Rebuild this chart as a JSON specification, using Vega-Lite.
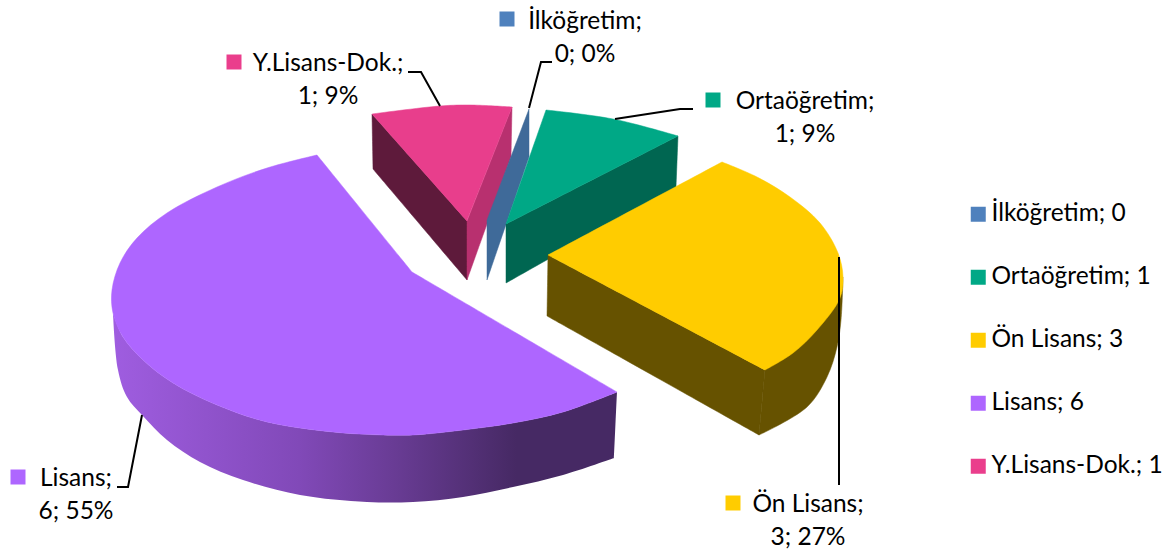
{"$schema":"https://vega.github.io/schema/vega-lite/v6.json","width":1165,"height":554,"autosize":{"type":"fit","contains":"padding"},"padding":0,"background":"white","config":{"view":{"stroke":null}},
"datasets":{
"slices":[
{"category":"İlköğretim","value":0,"percent":"0%","legendLabel":"İlköğretim; 0","label":"İlköğretim;\n0; 0%","tx":585,"ty":22,"kx":507,"ky":19},
{"category":"Ortaöğretim","value":1,"percent":"9%","legendLabel":"Ortaöğretim; 1","label":"Ortaöğretim;\n1; 9%","tx":805,"ty":102,"kx":713,"ky":100},
{"category":"Ön Lisans","value":3,"percent":"27%","legendLabel":"Ön Lisans; 3","label":"Ön Lisans;\n3; 27%","tx":808,"ty":505,"kx":733,"ky":503},
{"category":"Lisans","value":6,"percent":"55%","legendLabel":"Lisans; 6","label":"Lisans;\n6; 55%","tx":76,"ty":479,"kx":18,"ky":477},
{"category":"Y.Lisans-Dok.","value":1,"percent":"9%","legendLabel":"Y.Lisans-Dok.; 1","label":"Y.Lisans-Dok.;\n1; 9%","tx":328,"ty":64,"kx":234,"ky":62}
],
"faces":[
{"face":"lisansWall","i":0,"x":113,"y":313},{"face":"lisansWall","i":1,"x":113,"y":313},{"face":"lisansWall","i":2,"x":123,"y":337},{"face":"lisansWall","i":3,"x":143,"y":360},{"face":"lisansWall","i":4,"x":173,"y":383},{"face":"lisansWall","i":5,"x":217,"y":405},{"face":"lisansWall","i":6,"x":267,"y":422},{"face":"lisansWall","i":7,"x":333,"y":432},{"face":"lisansWall","i":8,"x":383,"y":435},{"face":"lisansWall","i":9,"x":413,"y":435},{"face":"lisansWall","i":10,"x":463,"y":430},{"face":"lisansWall","i":11,"x":513,"y":423},{"face":"lisansWall","i":12,"x":563,"y":412},{"face":"lisansWall","i":13,"x":617,"y":392},{"face":"lisansWall","i":14,"x":617,"y":392},{"face":"lisansWall","i":15,"x":614,"y":458},{"face":"lisansWall","i":16,"x":614,"y":458},{"face":"lisansWall","i":17,"x":563,"y":475},{"face":"lisansWall","i":18,"x":513,"y":487},{"face":"lisansWall","i":19,"x":463,"y":497},{"face":"lisansWall","i":20,"x":413,"y":502},{"face":"lisansWall","i":21,"x":367,"y":502},{"face":"lisansWall","i":22,"x":300,"y":495},{"face":"lisansWall","i":23,"x":243,"y":480},{"face":"lisansWall","i":24,"x":200,"y":462},{"face":"lisansWall","i":25,"x":167,"y":440},{"face":"lisansWall","i":26,"x":142,"y":415},{"face":"lisansWall","i":27,"x":127,"y":397},{"face":"lisansWall","i":28,"x":118,"y":370},{"face":"lisansWall","i":29,"x":113,"y":313},{"face":"lisansWall","i":30,"x":113,"y":313},
{"face":"lisansTop","i":0,"x":412,"y":272},{"face":"lisansTop","i":1,"x":412,"y":272},{"face":"lisansTop","i":2,"x":317,"y":155},{"face":"lisansTop","i":3,"x":317,"y":155},{"face":"lisansTop","i":4,"x":267,"y":168},{"face":"lisansTop","i":5,"x":217,"y":187},{"face":"lisansTop","i":6,"x":167,"y":213},{"face":"lisansTop","i":7,"x":137,"y":238},{"face":"lisansTop","i":8,"x":120,"y":263},{"face":"lisansTop","i":9,"x":112,"y":290},{"face":"lisansTop","i":10,"x":113,"y":313},{"face":"lisansTop","i":11,"x":123,"y":337},{"face":"lisansTop","i":12,"x":143,"y":360},{"face":"lisansTop","i":13,"x":173,"y":383},{"face":"lisansTop","i":14,"x":217,"y":405},{"face":"lisansTop","i":15,"x":267,"y":422},{"face":"lisansTop","i":16,"x":333,"y":432},{"face":"lisansTop","i":17,"x":383,"y":435},{"face":"lisansTop","i":18,"x":413,"y":435},{"face":"lisansTop","i":19,"x":463,"y":430},{"face":"lisansTop","i":20,"x":513,"y":423},{"face":"lisansTop","i":21,"x":563,"y":412},{"face":"lisansTop","i":22,"x":617,"y":392},{"face":"lisansTop","i":23,"x":617,"y":392},{"face":"lisansTop","i":24,"x":412,"y":272},{"face":"lisansTop","i":25,"x":412,"y":272},
{"face":"yLeft","i":0,"x":372,"y":114},{"face":"yLeft","i":1,"x":372,"y":114},{"face":"yLeft","i":2,"x":467,"y":221},{"face":"yLeft","i":3,"x":467,"y":221},{"face":"yLeft","i":4,"x":467,"y":280},{"face":"yLeft","i":5,"x":467,"y":280},{"face":"yLeft","i":6,"x":373,"y":169},{"face":"yLeft","i":7,"x":373,"y":169},{"face":"yLeft","i":8,"x":372,"y":114},{"face":"yLeft","i":9,"x":372,"y":114},
{"face":"yRight","i":0,"x":467,"y":221},{"face":"yRight","i":1,"x":467,"y":221},{"face":"yRight","i":2,"x":512,"y":107},{"face":"yRight","i":3,"x":512,"y":107},{"face":"yRight","i":4,"x":511,"y":157},{"face":"yRight","i":5,"x":511,"y":157},{"face":"yRight","i":6,"x":467,"y":280},{"face":"yRight","i":7,"x":467,"y":280},{"face":"yRight","i":8,"x":467,"y":221},{"face":"yRight","i":9,"x":467,"y":221},
{"face":"yTop","i":0,"x":467,"y":221},{"face":"yTop","i":1,"x":467,"y":221},{"face":"yTop","i":2,"x":372,"y":114},{"face":"yTop","i":3,"x":372,"y":114},{"face":"yTop","i":4,"x":440,"y":106},{"face":"yTop","i":5,"x":470,"y":105},{"face":"yTop","i":6,"x":512,"y":107},{"face":"yTop","i":7,"x":512,"y":107},{"face":"yTop","i":8,"x":467,"y":221},{"face":"yTop","i":9,"x":467,"y":221},
{"face":"ilk","i":0,"x":529,"y":109},{"face":"ilk","i":1,"x":529,"y":109},{"face":"ilk","i":2,"x":529,"y":157},{"face":"ilk","i":3,"x":529,"y":157},{"face":"ilk","i":4,"x":487,"y":280},{"face":"ilk","i":5,"x":487,"y":280},{"face":"ilk","i":6,"x":487,"y":220},{"face":"ilk","i":7,"x":487,"y":220},{"face":"ilk","i":8,"x":529,"y":109},{"face":"ilk","i":9,"x":529,"y":109},
{"face":"ortaWall","i":0,"x":506,"y":224},{"face":"ortaWall","i":1,"x":506,"y":224},{"face":"ortaWall","i":2,"x":678,"y":136},{"face":"ortaWall","i":3,"x":678,"y":136},{"face":"ortaWall","i":4,"x":676,"y":187},{"face":"ortaWall","i":5,"x":676,"y":187},{"face":"ortaWall","i":6,"x":506,"y":283},{"face":"ortaWall","i":7,"x":506,"y":283},{"face":"ortaWall","i":8,"x":506,"y":224},{"face":"ortaWall","i":9,"x":506,"y":224},
{"face":"ortaTop","i":0,"x":506,"y":224},{"face":"ortaTop","i":1,"x":506,"y":224},{"face":"ortaTop","i":2,"x":546,"y":110},{"face":"ortaTop","i":3,"x":546,"y":110},{"face":"ortaTop","i":4,"x":613,"y":119},{"face":"ortaTop","i":5,"x":678,"y":136},{"face":"ortaTop","i":6,"x":678,"y":136},{"face":"ortaTop","i":7,"x":506,"y":224},{"face":"ortaTop","i":8,"x":506,"y":224},
{"face":"onFront","i":0,"x":548,"y":255},{"face":"onFront","i":1,"x":548,"y":255},{"face":"onFront","i":2,"x":765,"y":370},{"face":"onFront","i":3,"x":765,"y":370},{"face":"onFront","i":4,"x":759,"y":435},{"face":"onFront","i":5,"x":759,"y":435},{"face":"onFront","i":6,"x":547,"y":316},{"face":"onFront","i":7,"x":547,"y":316},{"face":"onFront","i":8,"x":548,"y":255},{"face":"onFront","i":9,"x":548,"y":255},
{"face":"onRight","i":0,"x":765,"y":370},{"face":"onRight","i":1,"x":765,"y":370},{"face":"onRight","i":2,"x":843,"y":277},{"face":"onRight","i":3,"x":843,"y":277},{"face":"onRight","i":4,"x":841,"y":320},{"face":"onRight","i":5,"x":837,"y":347},{"face":"onRight","i":6,"x":827,"y":377},{"face":"onRight","i":7,"x":807,"y":407},{"face":"onRight","i":8,"x":759,"y":435},{"face":"onRight","i":9,"x":759,"y":435},{"face":"onRight","i":10,"x":765,"y":370},{"face":"onRight","i":11,"x":765,"y":370},
{"face":"onTop","i":0,"x":548,"y":255},{"face":"onTop","i":1,"x":548,"y":255},{"face":"onTop","i":2,"x":722,"y":162},{"face":"onTop","i":3,"x":722,"y":162},{"face":"onTop","i":4,"x":757,"y":177},{"face":"onTop","i":5,"x":790,"y":197},{"face":"onTop","i":6,"x":820,"y":223},{"face":"onTop","i":7,"x":838,"y":253},{"face":"onTop","i":8,"x":843,"y":277},{"face":"onTop","i":9,"x":840,"y":298},{"face":"onTop","i":10,"x":817,"y":330},{"face":"onTop","i":11,"x":793,"y":353},{"face":"onTop","i":12,"x":765,"y":370},{"face":"onTop","i":13,"x":765,"y":370},{"face":"onTop","i":14,"x":548,"y":255},{"face":"onTop","i":15,"x":548,"y":255}
],
"leaders":[
{"category":"Lisans","i":0,"x":142,"y":415},{"category":"Lisans","i":1,"x":128,"y":487},{"category":"Lisans","i":2,"x":117,"y":487},
{"category":"Y.Lisans-Dok.","i":0,"x":440,"y":106},{"category":"Y.Lisans-Dok.","i":1,"x":421,"y":72},{"category":"Y.Lisans-Dok.","i":2,"x":408,"y":72},
{"category":"İlköğretim","i":0,"x":529,"y":108},{"category":"İlköğretim","i":1,"x":541,"y":62},{"category":"İlköğretim","i":2,"x":552,"y":62},
{"category":"Ortaöğretim","i":0,"x":615,"y":119},{"category":"Ortaöğretim","i":1,"x":680,"y":109},{"category":"Ortaöğretim","i":2,"x":693,"y":109},
{"category":"Ön Lisans","i":0,"x":839,"y":257},{"category":"Ön Lisans","i":1,"x":839,"y":485}
]},
"encoding":{"x":{"field":"x","type":"quantitative","scale":{"domain":[0,1165],"nice":false,"zero":false},"axis":null},"y":{"field":"y","type":"quantitative","scale":{"domain":[554,0],"nice":false,"zero":false},"axis":null}},
"layer":[
{"data":{"name":"faces"},"transform":[{"filter":"datum.face==='lisansWall'"}],"mark":{"type":"line","stroke":null,"interpolate":"catmull-rom","fill":{"gradient":"linear","x1":0,"y1":0,"x2":1,"y2":0,"stops":[{"offset":0,"color":"#9F5DE0"},{"offset":0.37,"color":"#8149B8"},{"offset":0.57,"color":"#673B92"},{"offset":0.8,"color":"#462964"},{"offset":1,"color":"#462964"}]}},"encoding":{"order":{"field":"i","type":"quantitative"}}},
{"data":{"name":"faces"},"transform":[{"filter":"datum.face!=='lisansWall'"}],"mark":{"type":"line","strokeWidth":0.5,"interpolate":"catmull-rom"},"encoding":{"detail":{"field":"face"},"order":{"field":"i","type":"quantitative"},
"fill":{"field":"face","type":"nominal","legend":null,"scale":{"domain":["lisansTop","yLeft","yRight","yTop","ilk","ortaWall","ortaTop","onFront","onRight","onTop"],"range":["#AE66FF","#5E1A3B","#B8306F","#E83E8C","#3F6A99","#006651","#00A886","#665200","#665200","#FFCC00"]}},
"stroke":{"field":"face","type":"nominal","legend":null,"scale":{"domain":["lisansTop","yLeft","yRight","yTop","ilk","ortaWall","ortaTop","onFront","onRight","onTop"],"range":["#AE66FF","#5E1A3B","#B8306F","#E83E8C","#3F6A99","#006651","#00A886","#665200","#665200","#FFCC00"]}}}},
{"data":{"name":"leaders"},"mark":{"type":"line","color":"#000000","strokeWidth":2},"encoding":{"detail":{"field":"category"},"order":{"field":"i","type":"quantitative"}}},
{"data":{"name":"slices"},"mark":{"type":"point","shape":"square","filled":true,"opacity":1,"size":225},"encoding":{"x":{"field":"kx","type":"quantitative"},"y":{"field":"ky","type":"quantitative"},"color":{"field":"legendLabel","type":"nominal","scale":{"domain":["İlköğretim; 0","Ortaöğretim; 1","Ön Lisans; 3","Lisans; 6","Y.Lisans-Dok.; 1"],"range":["#4F81BD","#00A886","#FFCC00","#AE66FF","#EA3E8C"]},"legend":{"title":null,"orient":"none","legendX":966,"legendY":202,"symbolType":"square","symbolSize":225,"symbolOpacity":1,"labelFont":"Lato","labelFontSize":24.5,"labelColor":"#000000","labelLimit":220,"rowPadding":38,"labelOffset":1,"padding":0}}}},
{"data":{"name":"slices"},"mark":{"type":"text","font":"Lato","fontSize":24.5,"color":"#000000","align":"center","baseline":"middle","lineBreak":"\n","lineHeight":33},"encoding":{"x":{"field":"tx","type":"quantitative"},"y":{"field":"ty","type":"quantitative"},"text":{"field":"label"}}}
]}
